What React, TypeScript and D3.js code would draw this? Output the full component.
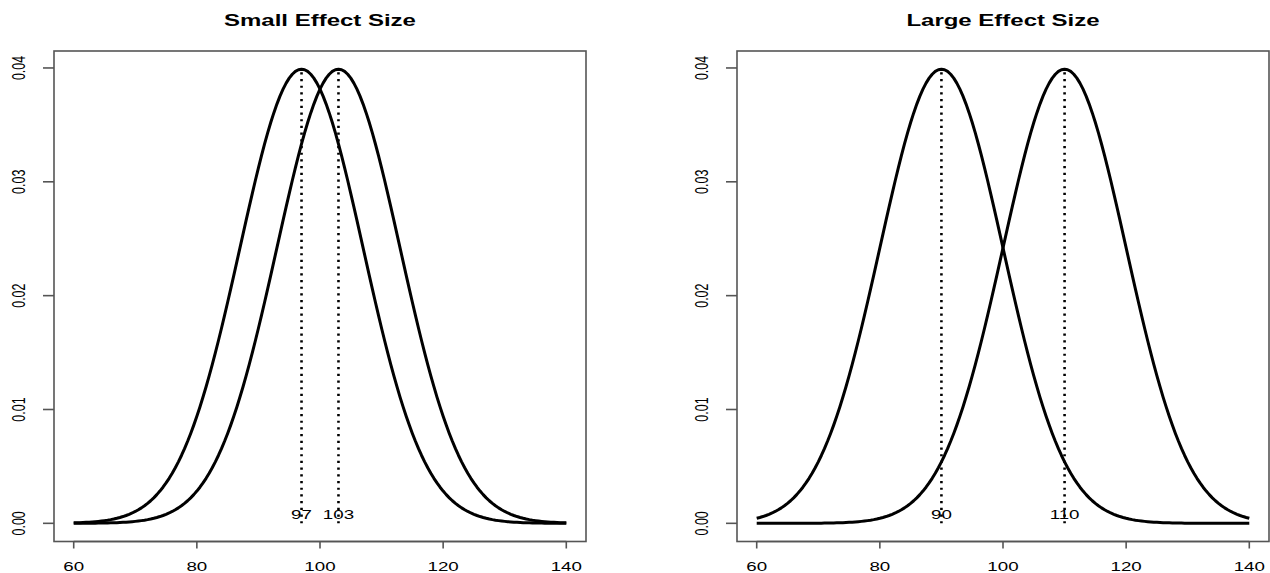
import React from "react";
import * as d3 from "d3";

// panel settings
const titles = ["Small Effect Size", "Large Effect Size"];
const groupMeans = [
  [97, 103],
  [90, 110],
];
const groupSd = 10;
const xTicks = [60, 80, 100, 120, 140];
const yTicks = [0, 0.01, 0.02, 0.03, 0.04];
const xRange = [60, 140];

const W = 1270;
const H = 573;
const boxLefts = [54, 737];
const boxW = 532;
const boxTop = 51;
const boxBottom = 541.5;
const stretch = 1.5; // the source image is widened horizontally
const font = "'Liberation Sans', Arial, sans-serif";

const dnorm = (x: number, m: number, s: number) =>
  Math.exp(-((x - m) ** 2) / (2 * s * s)) / (s * Math.sqrt(2 * Math.PI));

const Panel = ({ idx }: { idx: number }) => {
  const means = groupMeans[idx];
  const left = boxLefts[idx];
  const pad = (xRange[1] - xRange[0]) * 0.04;
  const x = d3
    .scaleLinear()
    .domain([xRange[0] - pad, xRange[1] + pad])
    .range([left, left + boxW]);
  const peak = dnorm(0, 0, groupSd);
  const y = d3
    .scaleLinear()
    .domain([-peak * 0.04, peak * 1.04])
    .range([boxBottom, boxTop]);

  const xs = d3.range(xRange[0], xRange[1] + 0.001, 0.5);
  const line = d3
    .line<number>()
    .x((d) => x(d))
    .curve(d3.curveLinear);

  return (
    <g>
      <text
        transform={`translate(${left + boxW / 2},26) scale(${stretch},1)`}
        textAnchor="middle"
        fontFamily={font}
        fontWeight="bold"
        fontSize={16}
      >
        {titles[idx]}
      </text>
      <rect
        x={left}
        y={boxTop}
        width={boxW}
        height={boxBottom - boxTop}
        fill="none"
        stroke="#555"
        strokeWidth={1.6}
      />
      {/* x axis */}
      <line
        x1={x(xTicks[0])}
        x2={x(xTicks[xTicks.length - 1])}
        y1={boxBottom}
        y2={boxBottom}
        stroke="#555"
        strokeWidth={1.6}
      />
      {xTicks.map((t) => (
        <g key={t}>
          <line x1={x(t)} x2={x(t)} y1={boxBottom} y2={boxBottom + 7} stroke="#555" strokeWidth={1.6} />
          <text
            transform={`translate(${x(t)},570.5) scale(${stretch},1)`}
            textAnchor="middle"
            fontFamily={font}
            fontSize={12.5}
          >
            {t}
          </text>
        </g>
      ))}
      {/* y axis */}
      {yTicks.map((t) => (
        <g key={t}>
          <line x1={left - 11} x2={left} y1={y(t)} y2={y(t)} stroke="#555" strokeWidth={1.6} />
          <text
            transform={`translate(${left - 29},${y(t)}) scale(${stretch},1) rotate(-90)`}
            textAnchor="middle"
            fontFamily={font}
            fontSize={12.5}
          >
            {t.toFixed(2)}
          </text>
        </g>
      ))}
      {/* density curves */}
      {means.map((m) => (
        <path
          key={`c${m}`}
          d={line.y((d) => y(dnorm(d, m, groupSd)))(xs) ?? ""}
          fill="none"
          stroke="#000"
          strokeWidth={3}
          strokeLinejoin="round"
        />
      ))}
      {/* mean markers */}
      {means.map((m) => (
        <g key={`m${m}`}>
          <line
            x1={x(m)}
            x2={x(m)}
            y1={y(0)}
            y2={y(peak)}
            stroke="#000"
            strokeWidth={2.6}
            strokeDasharray="2.2 4.5"
          />
          <text
            transform={`translate(${x(m)},519) scale(${stretch},1)`}
            textAnchor="middle"
            fontFamily={font}
            fontSize={12.5}
          >
            {m}
          </text>
        </g>
      ))}
    </g>
  );
};

export default function App() {
  return (
    <svg
      width={W}
      height={H}
      style={{ position: "absolute", left: 0, top: 0, background: "#fff" }}
    >
      <rect width={W} height={H} fill="#fff" />
      <Panel idx={0} />
      <Panel idx={1} />
    </svg>
  );
}
